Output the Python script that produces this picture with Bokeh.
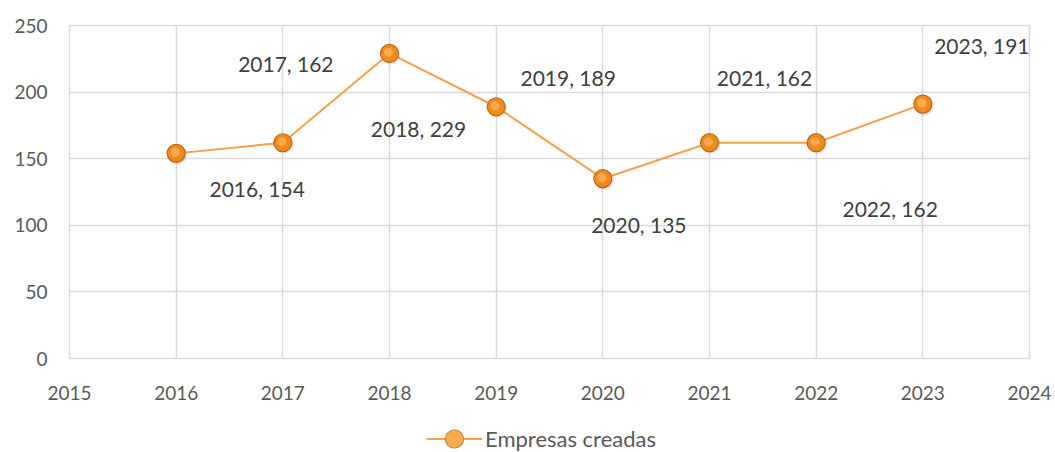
from bokeh.plotting import figure
from bokeh.layouts import column
from bokeh.models import ColumnDataSource, LabelSet, Legend, LegendItem, FixedTicker
from bokeh.core.properties import value
from bokeh.transform import dodge
from bokeh.embed import file_html
from bokeh.resources import INLINE

years = [2016, 2017, 2018, 2019, 2020, 2021, 2022, 2023]
empresas = [154, 162, 229, 189, 135, 162, 162, 191]
x_ticks = [2015, 2016, 2017, 2018, 2019, 2020, 2021, 2022, 2023, 2024]
y_ticks = [0, 50, 100, 150, 200, 250]
series_name = "Empresas creadas"

# label offsets (pixels) relative to each point, as placed in the reference
label_dx = [81, 3, 29, 72, 36, 55, 74, 59]
label_dy = [-35, 79, -75, 29, -46, 65, -66, 59]

labels = [f"{y}, {v}" for y, v in zip(years, empresas)]
src = ColumnDataSource(dict(x=years, y=empresas, label=labels, dx=label_dx, dy=label_dy))

FONT = "Lato"
LINE_C = "#F4A04C"
DOT_C = "#F28A1A"
DOT_LINE = "#B8681C"

p = figure(width=1055, height=414, output_backend="svg", toolbar_location=None,
           x_range=(2015, 2024), y_range=(0, 250),
           min_border_left=69, min_border_right=26, min_border_top=25, min_border_bottom=56)
p.outline_line_color = "#D9D9D9"
p.outline_line_width = 1.5
p.background_fill_color = "white"
p.border_fill_color = "white"

for ax in (p.xaxis, p.yaxis):
    ax.axis_line_color = None
    ax.major_tick_line_color = None
    ax.minor_tick_line_color = None
    ax.major_label_text_font = FONT
    ax.major_label_text_font_size = "19px"
    ax.major_label_text_color = "#595959"
p.xaxis.ticker = FixedTicker(ticks=x_ticks)
p.yaxis.ticker = FixedTicker(ticks=y_ticks)
p.xaxis.major_label_standoff = 21
p.yaxis.major_label_standoff = 16

p.xgrid.ticker = FixedTicker(ticks=x_ticks)
p.ygrid.ticker = FixedTicker(ticks=y_ticks)
p.grid.grid_line_color = "#D9D9D9"
p.grid.grid_line_width = 1.5

p.line("x", "y", source=src, line_color=LINE_C, line_width=2)
p.scatter(x=dodge("x", 0.014, range=p.x_range), y=dodge("y", -1.2, range=p.y_range),
          source=src, size=19, fill_color="#808080", fill_alpha=0.22, line_color=None)
p.scatter("x", "y", source=src, size=18, fill_color=DOT_C, line_color=DOT_LINE, line_width=1.2)
p.scatter(x=dodge("x", -0.01, range=p.x_range), y=dodge("y", 0.8, range=p.y_range),
          source=src, size=9, fill_color="#FDB865", fill_alpha=0.7, line_color=None)

ls = LabelSet(x="x", y="y", text="label", source=src, x_offset="dx", y_offset="dy",
              text_align="center", text_baseline="middle", text_font=value(FONT),
              text_font_size="21px", text_color="#404040")
p.add_layout(ls)

# legend strip below the chart
lg = figure(width=1055, height=38, output_backend="svg", toolbar_location=None,
            x_range=(2015, 2024), y_range=(0, 250), x_axis_type=None, y_axis_type=None,
            min_border_left=0, min_border_right=0, min_border_top=0, min_border_bottom=0)
lg.outline_line_color = None
lg.grid.visible = False
lr = lg.line("x", "y", source=src, line_color=LINE_C, line_width=2, visible=False)
ld = lg.scatter("x", "y", source=src, size=18, fill_color=DOT_C, line_color=DOT_LINE,
                line_width=1.2, visible=False)
lh = lg.scatter("x", "y", source=src, size=9, fill_color="#FDB865", fill_alpha=0.7,
                line_color=None, visible=False)
legend = Legend(items=[LegendItem(label=series_name, renderers=[lr, ld, lh])],
                location=(357, -9), orientation="horizontal",
                label_text_font=FONT, label_text_font_size="22px",
                label_text_color="#595959", border_line_color=None,
                background_fill_alpha=0, glyph_width=56, glyph_height=45,
                label_height=20, label_standoff=3, padding=0, margin=0)
lg.add_layout(legend, "center")

layout = column(p, lg, spacing=0)
open("out.html", "w").write(file_html(layout, INLINE))
